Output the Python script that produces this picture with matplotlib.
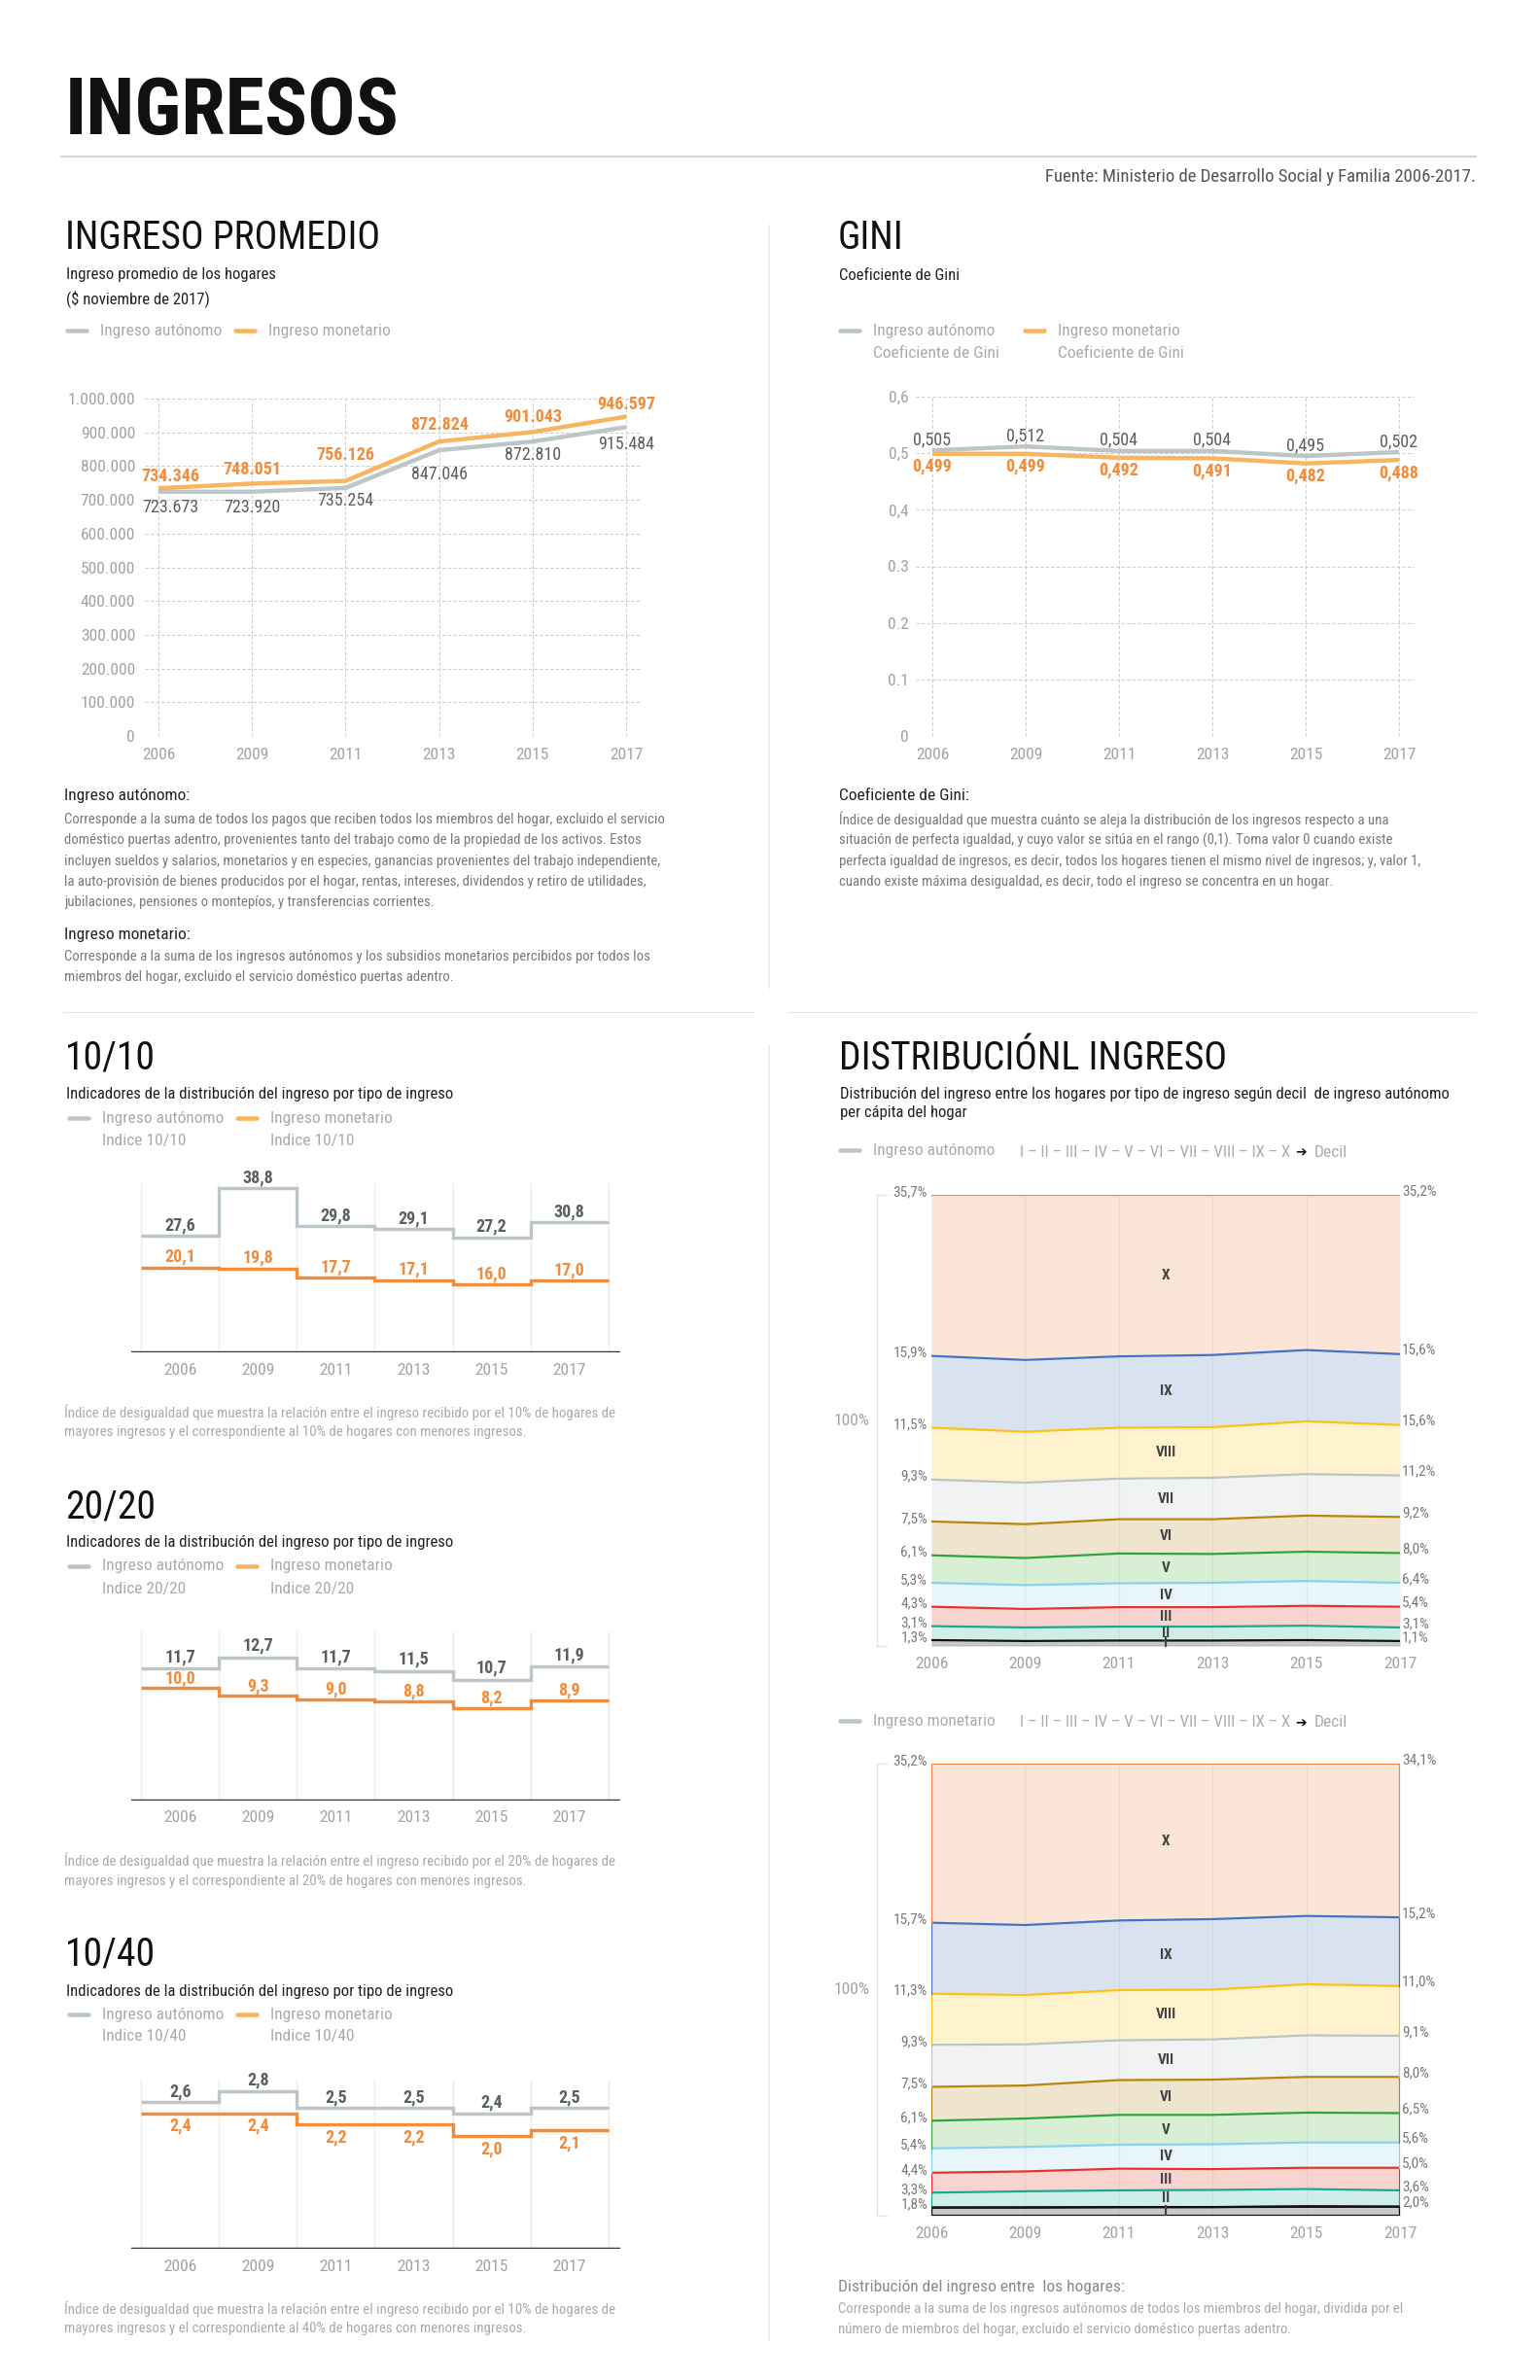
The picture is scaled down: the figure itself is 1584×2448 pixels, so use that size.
import numpy as np
import matplotlib
matplotlib.use("Agg")
import matplotlib.pyplot as plt
from matplotlib import font_manager as fm
from matplotlib.lines import Line2D
from matplotlib.text import Annotation

# ---------------- datos ----------------
years = ["2006", "2009", "2011", "2013", "2015", "2017"]

ing_autonomo = [723673, 723920, 735254, 847046, 872810, 915484]
ing_monetario = [734346, 748051, 756126, 872824, 901043, 946597]
ing_yticks = [0, 100000, 200000, 300000, 400000, 500000, 600000, 700000, 800000, 900000, 1000000]

gini_autonomo = [0.505, 0.512, 0.504, 0.504, 0.495, 0.502]
gini_monetario = [0.499, 0.499, 0.492, 0.491, 0.482, 0.488]
gini_yticks = [0, 0.1, 0.2, 0.3, 0.4, 0.5, 0.6]
gini_yticklabels = ["0", "0.1", "0.2", "0.3", "0,4", "0,5", "0,6"]

r1010_autonomo = [27.6, 38.8, 29.8, 29.1, 27.2, 30.8]
r1010_monetario = [20.1, 19.8, 17.7, 17.1, 16.0, 17.0]
r2020_autonomo = [11.7, 12.7, 11.7, 11.5, 10.7, 11.9]
r2020_monetario = [10.0, 9.3, 9.0, 8.8, 8.2, 8.9]
r1040_autonomo = [2.6, 2.8, 2.5, 2.5, 2.4, 2.5]
r1040_monetario = [2.4, 2.4, 2.2, 2.2, 2.0, 2.1]

deciles = ["I", "II", "III", "IV", "V", "VI", "VII", "VIII", "IX", "X"]
# participacion (%) por decil, de I a X, anios 2006..2017
dist_autonomo = [
    [1.3, 1.1, 1.2, 1.2, 1.3, 1.1],
    [3.1, 3.0, 3.1, 3.1, 3.2, 3.0],
    [4.3, 4.1, 4.3, 4.3, 4.4, 4.6],
    [5.3, 5.3, 5.3, 5.4, 5.5, 5.3],
    [6.1, 6.0, 6.6, 6.4, 6.5, 6.6],
    [7.5, 7.5, 7.6, 7.7, 8.0, 8.0],
    [9.3, 9.2, 9.0, 9.2, 9.2, 9.2],
    [11.5, 11.3, 11.3, 11.2, 11.7, 11.2],
    [15.9, 15.9, 15.8, 16.0, 15.8, 15.7],
    [35.7, 36.6, 35.8, 35.5, 34.4, 35.3],
]
dist_monetario = [
    [1.8, 1.8, 1.9, 1.9, 2.1, 2.0],
    [3.3, 3.6, 3.7, 3.8, 3.8, 3.6],
    [4.4, 4.4, 4.8, 4.6, 4.7, 5.0],
    [5.4, 5.4, 5.3, 5.5, 5.6, 5.6],
    [6.1, 6.3, 6.6, 6.5, 6.6, 6.5],
    [7.5, 7.3, 7.7, 7.8, 7.9, 8.0],
    [9.3, 9.1, 8.8, 8.9, 9.2, 9.1],
    [11.3, 10.9, 11.1, 11.0, 11.3, 11.0],
    [15.7, 15.5, 15.4, 15.6, 15.1, 15.2],
    [35.2, 35.7, 34.7, 34.4, 33.7, 34.0],
]
aut_left_labels = ["1,3%", "3,1%", "4,3%", "5,3%", "6,1%", "7,5%", "9,3%", "11,5%", "15,9%", "35,7%"]
aut_right_labels = ["1,1%", "3,1%", "5,4%", "6,4%", "8,0%", "9,2%", "11,2%", "15,6%", "15,6%", "35,2%"]
mon_left_labels = ["1,8%", "3,3%", "4,4%", "5,4%", "6,1%", "7,5%", "9,3%", "11,3%", "15,7%", "35,2%"]
mon_right_labels = ["2,0%", "3,6%", "5,0%", "5,6%", "6,5%", "8,0%", "9,1%", "11,0%", "15,2%", "34,1%"]

# ---------------- estilo ----------------
W, H, DPI = 1584, 2448, 100
avail = {f.name for f in fm.fontManager.ttflist}
FONT = next((f for f in ["Roboto Condensed", "Liberation Sans Narrow", "Roboto"] if f in avail), "DejaVu Sans")
plt.rcParams["font.family"] = [FONT, "DejaVu Sans"]

GRAY_LINE = "#BCC5C7"
ORANGE_LIGHT = "#F8B45E"
ORANGE = "#F08C3C"
LEG_GRAY = "#A6ADB0"
TICK_GRAY = "#A3A3A3"
BODY_GRAY = "#7A7A7A"
NOTE_GRAY = "#ABABAB"
fills = ["#C9C9C9", "#D0EEE8", "#F8D4D1", "#E8F5FB", "#D8EED5", "#EFE4CE", "#F1F2F3", "#FFF2CF", "#D9E2EF", "#FAE5D6"]
edges_c = ["#111111", "#19A890", "#E8312B", "#88D0F4", "#2DA53A", "#B8860B", "#BCC3C6", "#FFC010", "#4472C4", "#F4883C"]

fig = plt.figure(figsize=(W / DPI, H / DPI), dpi=DPI)
fig.patch.set_facecolor("white")


def pt(px):
    return px * 72 / DPI


def ftext(x, y, s, **kw):
    kw.setdefault("va", "center")
    return fig.text(x / W, 1 - y / H, s, **kw)


def fline(x0, y0, x1, y1, **kw):
    fig.add_artist(Line2D([x0 / W, x1 / W], [1 - y0 / H, 1 - y1 / H], transform=fig.transFigure, **kw))


def add_ax(x0, y0, x1, y1):
    return fig.add_axes([x0 / W, 1 - y1 / H, (x1 - x0) / W, (y1 - y0) / H])


def legend_item(x, y, color, texts):
    fline(x, y, x + 20, y, color=color, lw=pt(4.5), solid_capstyle="round")
    for j, s in enumerate(texts):
        ftext(x + 34, y + j * 23, s, fontsize=12.5, color=LEG_GRAY)


def lines_block(x, y, lines, step=21.3, **kw):
    for j, s in enumerate(lines):
        ftext(x, y + j * step, s, **kw)


def fmt1(v):
    return f"{v:.1f}".replace(".", ",")


# ---------------- cabecera ----------------
ftext(67, 138, "INGRESOS", fontsize=59, fontweight="bold", va="baseline", color="#111111")
fline(63, 161, 1518, 161, color="#D5D5D5", lw=1.6)
ftext(1518, 182, "Fuente: Ministerio de Desarrollo Social y Familia 2006-2017.", ha="right", fontsize=13.5, color="#555555")

# separadores
fline(791, 232, 791, 1016, color="#EEEEEE", lw=1.5)
fline(791, 1075, 791, 2406, color="#EEEEEE", lw=1.5)
fline(65, 1041, 776, 1041, color="#E3E3E3", lw=0.8)
fline(811, 1041, 1518, 1041, color="#E3E3E3", lw=0.8)

# ---------------- INGRESO PROMEDIO ----------------
ftext(67, 256, "INGRESO PROMEDIO", fontsize=28.5, va="baseline", color="#111111")
ftext(68, 283, "Ingreso promedio de los hogares", fontsize=12, color="#222222")
ftext(68, 307, "($ noviembre de 2017)", fontsize=12, color="#222222")
legend_item(69, 340, GRAY_LINE, ["Ingreso autónomo"])
legend_item(242, 340, ORANGE_LIGHT, ["Ingreso monetario"])

x = np.arange(len(years))
ax = add_ax(149, 410, 660, 757)
ax.set_xlim(-0.146, 5.166)
ax.set_ylim(0, 1000000)
ax.plot(x, ing_autonomo, color=GRAY_LINE, lw=pt(4.4), solid_capstyle="butt", zorder=3)
ax.plot(x, ing_monetario, color=ORANGE_LIGHT, lw=pt(4.4), solid_capstyle="butt", zorder=4)
ax.set_xticks(x, years)
ax.set_yticks(ing_yticks, [f"{v:,}".replace(",", ".") for v in ing_yticks])
ax.tick_params(length=0, labelsize=12.5, labelcolor=TICK_GRAY)
ax.tick_params(axis="y", pad=pt(10))
ax.tick_params(axis="x", pad=pt(12))
ax.grid(True, color="#CFCFCF", lw=0.8, ls=(0, (3, 2)))
for s in ax.spines.values():
    s.set_visible(False)
mon_dy = [12, 14, 27, 17, 15, 13]
aut_dy = [-16, -16, -13, -25, -14, -18]
for i in range(len(years)):
    dx = pt(12) if i == 0 else 0
    ax.annotate(f"{ing_monetario[i]:,}".replace(",", "."), (i, ing_monetario[i]), xytext=(dx, pt(mon_dy[i])),
                textcoords="offset points", ha="center", va="center", fontsize=13, fontweight="bold",
                color=ORANGE, annotation_clip=False)
    ax.annotate(f"{ing_autonomo[i]:,}".replace(",", "."), (i, ing_autonomo[i]), xytext=(dx, pt(aut_dy[i])),
                textcoords="offset points", ha="center", va="center", fontsize=13, color="#5F5F5F",
                annotation_clip=False)

# ---------------- GINI ----------------
ftext(862, 256, "GINI", fontsize=28.5, va="baseline", color="#111111")
ftext(863, 283, "Coeficiente de Gini", fontsize=12, color="#222222")
legend_item(864, 340, GRAY_LINE, ["Ingreso autónomo", "Coeficiente de Gini"])
legend_item(1054, 340, ORANGE_LIGHT, ["Ingreso monetario", "Coeficiente de Gini"])

ax = add_ax(942, 408, 1455, 757)
ax.set_xlim(-0.177, 5.167)
ax.set_ylim(0, 0.6)
ax.plot(x, gini_autonomo, color=GRAY_LINE, lw=pt(4.4), solid_capstyle="butt", zorder=3)
ax.plot(x, gini_monetario, color=ORANGE_LIGHT, lw=pt(4.4), solid_capstyle="butt", zorder=4)
ax.set_xticks(x, years)
ax.set_yticks(gini_yticks, gini_yticklabels)
ax.tick_params(length=0, labelsize=12.5, labelcolor=TICK_GRAY)
ax.tick_params(axis="y", pad=pt(7))
ax.tick_params(axis="x", pad=pt(12))
ax.grid(True, color="#CFCFCF", lw=0.8, ls=(0, (3, 2)))
for s in ax.spines.values():
    s.set_visible(False)
for i in range(len(years)):
    ax.annotate(f"{gini_autonomo[i]:.3f}".replace(".", ","), (i, gini_autonomo[i]), xytext=(0, pt(11)),
                textcoords="offset points", ha="center", va="center", fontsize=13, color="#5F5F5F",
                annotation_clip=False)
    ax.annotate(f"{gini_monetario[i]:.3f}".replace(".", ","), (i, gini_monetario[i]), xytext=(0, pt(-13)),
                textcoords="offset points", ha="center", va="center", fontsize=13, fontweight="bold",
                color=ORANGE, annotation_clip=False)

# ---------------- textos explicativos ----------------
ftext(66, 819, "Ingreso autónomo:", fontsize=12.5, color="#222222")
lines_block(66, 843, [
    "Corresponde a la suma de todos los pagos que reciben todos los miembros del hogar, excluido el servicio",
    "doméstico puertas adentro, provenientes tanto del trabajo como de la propiedad de los activos. Estos",
    "incluyen sueldos y salarios, monetarios y en especies, ganancias provenientes del trabajo independiente,",
    "la auto-provisión de bienes producidos por el hogar, rentas, intereses, dividendos y retiro de utilidades,",
    "jubilaciones, pensiones o montepíos, y transferencias corrientes.",
], fontsize=10.6, color=BODY_GRAY)
ftext(66, 962, "Ingreso monetario:", fontsize=12.5, color="#222222")
lines_block(66, 984, [
    "Corresponde a la suma de los ingresos autónomos y los subsidios monetarios percibidos por todos los",
    "miembros del hogar, excluido el servicio doméstico puertas adentro.",
], fontsize=10.6, color=BODY_GRAY)

ftext(863, 819, "Coeficiente de Gini:", fontsize=12.5, color="#222222")
lines_block(863, 843, [
    "Índice de desigualdad que muestra cuánto se aleja la distribución de los ingresos respecto a una",
    "situación de perfecta igualdad, y cuyo valor se sitúa en el rango (0,1). Toma valor 0 cuando existe",
    "perfecta igualdad de ingresos, es decir, todos los hogares tienen el mismo nivel de ingresos; y, valor 1,",
    "cuando existe máxima desigualdad, es decir, todo el ingreso se concentra en un hogar.",
], fontsize=10.6, color=BODY_GRAY)


# ---------------- indices por tramos ----------------
def step_chart(top, name, ymax, aut, mon, aut_off, mon_off, pct):
    ftext(67, top, name, fontsize=28.5, va="baseline", color="#111111")
    ftext(68, top + 26, "Indicadores de la distribución del ingreso por tipo de ingreso", fontsize=12, color="#222222")
    legend_item(71, top + 50, GRAY_LINE, ["Ingreso autónomo", "Indice " + name])
    legend_item(244, top + 50, ORANGE_LIGHT, ["Ingreso monetario", "Indice " + name])

    ax = add_ax(135, top + 117, 638, top + 291)
    ax.set_xlim(-0.131, 6.156)
    ax.set_ylim(0, ymax)
    ax.set_axis_off()
    edges = np.arange(len(aut) + 1)
    for e in edges:
        ax.plot([e, e], [0, ymax], color="#EBEBEB", lw=1, zorder=1)
    ax.axhline(0, color="#333333", lw=pt(2.4), zorder=2)
    ax.stairs(aut, edges, baseline=None, color=GRAY_LINE, lw=pt(3.4), zorder=3)
    ax.stairs(mon, edges, baseline=None, color=ORANGE, lw=pt(3.4), zorder=4)
    for i in range(len(aut)):
        ax.annotate(fmt1(aut[i]), (i + 0.5, aut[i]), xytext=(0, pt(aut_off)), textcoords="offset points",
                    ha="center", va="center", fontsize=13, fontweight="bold", color="#5A5F61")
        ax.annotate(fmt1(mon[i]), (i + 0.5, mon[i]), xytext=(0, pt(mon_off)), textcoords="offset points",
                    ha="center", va="center", fontsize=13, fontweight="bold", color=ORANGE)
        ax.annotate(years[i], (i + 0.5, 0), xytext=(0, pt(-18)), textcoords="offset points",
                    ha="center", va="center", fontsize=12.5, color=TICK_GRAY, annotation_clip=False)
    lines_block(66, top + 353, [
        f"Índice de desigualdad que muestra la relación entre el ingreso recibido por el {pct[0]}% de hogares de",
        f"mayores ingresos y el correspondiente al {pct[1]}% de hogares con menores ingresos.",
    ], step=20.5, fontsize=10.7, color=NOTE_GRAY)


step_chart(1100, "10/10", 40, r1010_autonomo, r1010_monetario, 11, 11, (10, 10))
step_chart(1561, "20/20", 15, r2020_autonomo, r2020_monetario, 12, 10, (20, 20))
step_chart(2022, "10/40", 3, r1040_autonomo, r1040_monetario, 11, -13, (10, 40))

# ---------------- distribucion del ingreso ----------------
ftext(863, 1100, "DISTRIBUCIÓNL INGRESO", fontsize=28.5, va="baseline", color="#111111")
ftext(864, 1126, "Distribución del ingreso entre los hogares por tipo de ingreso según decil  de ingreso autónomo",
      fontsize=12, color="#222222")
ftext(864, 1145, "per cápita del hogar", fontsize=12, color="#222222")


def dist_legend(y, label):
    fline(864, y, 884, y, color=GRAY_LINE, lw=pt(4.5), solid_capstyle="round")
    ftext(898, y, label, fontsize=12.5, color=LEG_GRAY)
    t1 = ftext(1049, y + 2, " – ".join(deciles), fontsize=12, color=LEG_GRAY)
    arrow = Annotation("➔", xy=(1, 0.5), xycoords=t1, xytext=(4, 0), textcoords="offset points",
                       ha="left", va="center", fontsize=10, color="#111111", family=["DejaVu Sans"])
    fig.add_artist(arrow)
    decil = Annotation("Decil", xy=(1, 0.5), xycoords=arrow, xytext=(5, 0), textcoords="offset points",
                       ha="left", va="center", fontsize=12.5, color=LEG_GRAY)
    fig.add_artist(decil)


def dist_chart(top, bot, data, left_labels, right_labels, outline):
    ax = add_ax(958, top, 1440, bot)
    ax.set_xlim(0, 5)
    ax.set_ylim(0, 100)
    ax.set_axis_off()
    cum = np.vstack([np.zeros(len(years)), np.cumsum(np.array(data), axis=0)])
    for k in range(len(deciles)):
        ax.fill_between(x, cum[k], cum[k + 1], color=fills[k], lw=0, zorder=1)
    for xi in x[1:-1]:
        ax.plot([xi, xi], [0, cum[-1][xi]], color="#000000", alpha=0.05, lw=1, zorder=2)
    for k in range(len(deciles)):
        ax.plot(x, cum[k + 1], color=edges_c[k], lw=pt(2.2), zorder=3, solid_capstyle="butt")
        if outline:
            for xe in (0, 5):
                ax.plot([xe, xe], [cum[k][xe], cum[k + 1][xe]], color=edges_c[k], lw=pt(2.2), zorder=3)
        mid = (cum[k][2] + cum[k + 1][2] + cum[k][3] + cum[k + 1][3]) / 4
        ax.text(2.5, mid, deciles[k], ha="center", va="center", fontsize=11, fontweight="bold",
                color="#444444", zorder=5)
        ax.annotate(left_labels[k], (0, cum[k + 1][0]), xytext=(-pt(4), pt(3)), textcoords="offset points",
                    ha="right", va="center", fontsize=11, color=BODY_GRAY, annotation_clip=False)
        ax.annotate(right_labels[k], (5, cum[k + 1][5]), xytext=(pt(2), pt(4)), textcoords="offset points",
                    ha="left", va="center", fontsize=11, color=BODY_GRAY, annotation_clip=False)
    if outline:
        ax.plot([0, 5, 5, 0, 0], [0, 0, cum[1][5], cum[1][0], 0], color="#111111", lw=pt(2.2), zorder=4)
    else:
        ax.plot(x, np.zeros(len(years)), color="#BBBBBB", lw=pt(2), zorder=3)
    for i, yl in enumerate(years):
        ax.annotate(yl, (i, 0), xytext=(0, pt(-19)), textcoords="offset points", ha="center", va="center",
                    fontsize=12.5, color=TICK_GRAY, annotation_clip=False)
    mid_y = (top + bot) / 2
    ftext(895, mid_y, "100%", ha="right", fontsize=12.5, color=TICK_GRAY)
    fline(902, top, 902, bot, color="#E2E2E2", lw=1)
    fline(902, top, 912, top, color="#E2E2E2", lw=1)
    fline(902, bot, 912, bot, color="#E2E2E2", lw=1)


dist_legend(1183, "Ingreso autónomo")
dist_chart(1229, 1693, dist_autonomo, aut_left_labels, aut_right_labels, False)
dist_legend(1770, "Ingreso monetario")
dist_chart(1814, 2279, dist_monetario, mon_left_labels, mon_right_labels, True)

ftext(862, 2352, "Distribución del ingreso entre  los hogares:", fontsize=12.5, color="#8A8A8A")
lines_block(862, 2375, [
    "Corresponde a la suma de los ingresos autónomos de todos los miembros del hogar, dividida por el",
    "número de miembros del hogar, excluido el servicio doméstico puertas adentro.",
], fontsize=10.6, color=NOTE_GRAY)

fig.savefig("out.png", dpi=DPI, facecolor="white")
